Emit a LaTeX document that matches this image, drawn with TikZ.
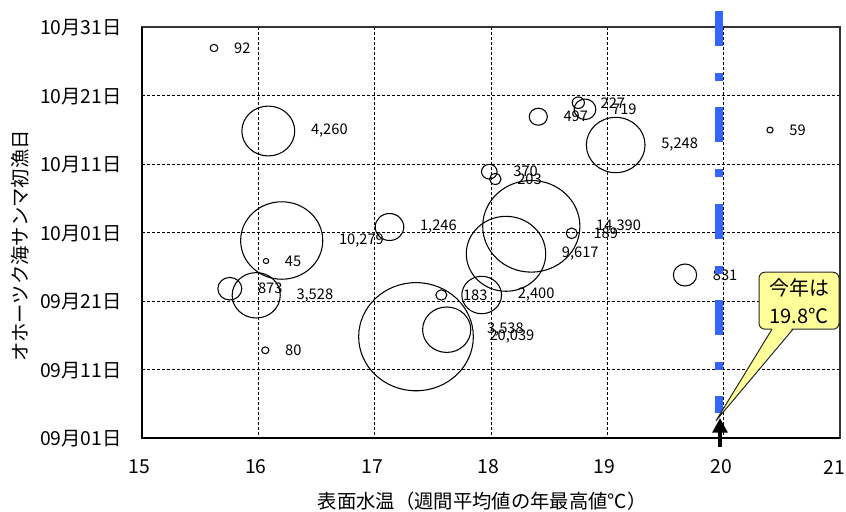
\documentclass[tikz,border=0pt]{standalone}
\usepackage{fontspec}
\setmainfont{Noto Sans CJK JP}
\usetikzlibrary{arrows.meta,shapes.geometric}
\definecolor{dashblue}{RGB}{51,102,255}
\definecolor{callyellow}{RGB}{255,255,153}
\begin{document}
\begin{tikzpicture}[x=0.75pt,y=-0.75pt,
  grid/.style={black, line width=0.6pt, dash pattern=on 2.25pt off 1.5pt},
  bubble/.style={ellipse, draw=black, line width=0.8pt, inner sep=0pt, outer sep=0pt},
  lbl/.style={font=\fontsize{11}{13}\selectfont, inner sep=0pt, anchor=west},
  ytick/.style={font=\fontsize{14.5}{17}\selectfont, inner sep=0pt, anchor=east},
  xtick/.style={font=\fontsize{14.5}{17}\selectfont, inner sep=0pt, anchor=center},
  axtitle/.style={font=\fontsize{14.5}{17}\selectfont, inner sep=0pt},
  callout/.style={draw=black!85, fill=callyellow, rounded corners=4.5pt, line width=0.75pt,
    minimum width=60pt, minimum height=42.75pt, inner sep=0pt, align=center,
    font=\fontsize{15}{21}\selectfont},
]
\useasboundingbox[fill=white] (0,0) rectangle (846,511);

% grid
\foreach \gx in {258.3,374.6,490.9,607.2,723.5}
  \draw[grid] (\gx,27) -- (\gx,438);
\foreach \gy in {95.5,164,232.5,301,369.5}
  \draw[grid] (142,\gy) -- (840,\gy);

% frame and axes
\draw[line width=0.8pt, black!80] (142,27) rectangle (840,438);
\draw[line width=1.5pt] (142,27) -- (142,438) -- (840,438);

% y tick labels
\foreach \yy/\t [count=\i] in {27/10月31日, 95.5/10月21日, 164/10月11日, 232.5/10月01日,
    301/09月21日, 369.5/09月11日, 438/09月01日}
  \node[ytick] (yt\i) at (122,\yy+1) {\t};

% x tick labels
\foreach \xx/\t [count=\i] in {139.5/15, 255.8/16, 372.1/17, 488.4/18, 604.7/19, 721/20, 834.5/21}
  \node[xtick] (xt\i) at (\xx,467) {\t};

% axis titles
\node[axtitle, rotate=90] (ytitle) at (20.5,246) {オホーツク海サンマ初漁日};
\node[axtitle] (xtitle) at (482,501) {表面水温（週間平均値の年最高値℃）};

% bubbles (value given in hundreds)
\foreach \i/\cx/\cy/\w/\t in {
  1/214/48/0.92/92,
  2/268.3/131/42.60/{4,260},
  3/770/130/0.59/59,
  4/578.3/102.7/2.27/227,
  5/585/109.3/7.19/719,
  6/538.3/116.7/4.97/497,
  7/615.7/145/52.48/{5,248},
  8/489.3/171.7/3.70/370,
  9/495.3/179/2.03/203,
  10/531.3/226.3/143.90/{14,390},
  11/571.7/233.3/1.89/189,
  12/506/253.8/96.17/{9,617},
  13/389.5/227/12.46/{1,246},
  14/281.7/240.5/102.79/{10,279},
  15/266/261/0.45/45,
  16/229.8/288.7/8.73/873,
  17/256.2/295.3/35.28/{3,528},
  18/265.3/350.3/0.80/80,
  19/416/336.7/200.39/{20,039},
  20/446.7/329.7/35.38/{3,538},
  21/441.3/295/1.83/183,
  22/481.7/295/24.00/{2,400},
  23/685/275/8.31/831}{
  \pgfmathsetmacro\rw{15*0.405*sqrt(\w)}
  \pgfmathsetmacro\rh{15*0.382*sqrt(\w)}
  \node[bubble, minimum width=\rw pt, minimum height=\rh pt] (b\i) at (\cx,\cy) {};
  \node[lbl] (l\i) at ([xshift=12pt]b\i.east) {\t};
}

% blue dash-dot line
\coordinate (bt) at (718.5,11);
\coordinate (bb) at (718.5,413);
\draw[dashblue, line width=6pt, dash pattern=on 26.25pt off 20.25pt on 6pt off 19.75pt] (bt) -- (bb);

% callout
\node[callout] (call) at (799,300.7) {今年は\\19.8℃};
\coordinate (p1) at (772,329.2);
\coordinate (p2) at (793,329.2);
\coordinate (tip) at (716,420.7);
\fill[callyellow] (772.5,327.6) -- (tip) -- (792.5,327.6) -- cycle;
\draw[black!85, line width=0.75pt, line join=miter] (p1) -- (tip) -- (p2);

% arrow
\coordinate (a0) at (720,447);
\coordinate (a1) at (720,418);
\draw[line width=3pt, -{Triangle[width=11pt,length=11pt]}] (a0) -- (a1);
\end{tikzpicture}
\end{document}
